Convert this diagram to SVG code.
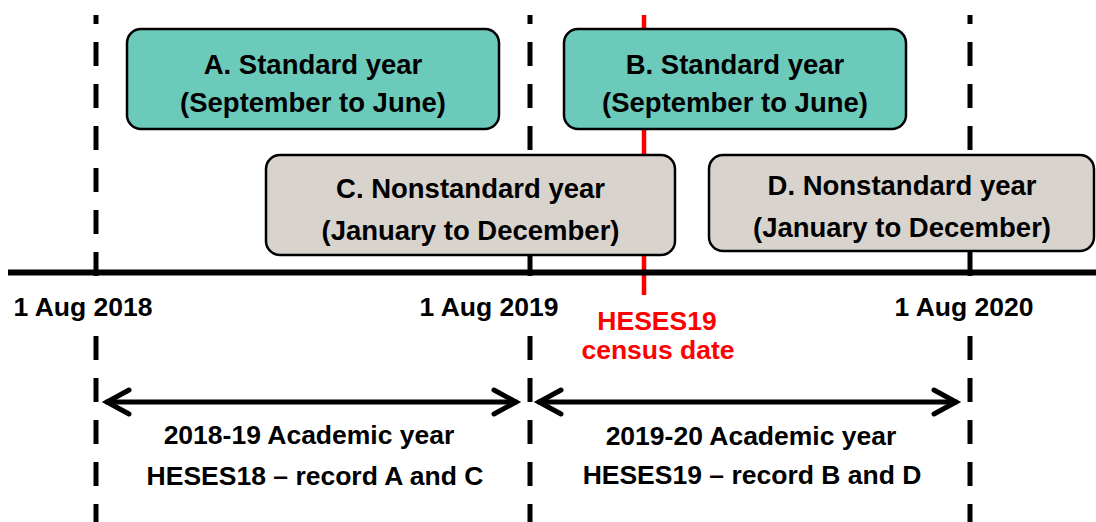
<svg xmlns="http://www.w3.org/2000/svg" width="1096" height="522" viewBox="0 0 1096 522">
<style>
.dash{stroke:#000;stroke-width:5;stroke-dasharray:24 18;fill:none}
.box{stroke:#000;stroke-width:2.5}
.std{fill:#6CCABB}
.non{fill:#D8D3CD}
.bt{font-family:"Liberation Sans",Arial,sans-serif;font-weight:bold;font-size:27.5px;fill:#000;text-anchor:middle}
.lb{font-family:"Liberation Sans",Arial,sans-serif;font-weight:bold;font-size:26.5px;fill:#000;text-anchor:middle}
.red{fill:#FF0000}
.arr{stroke:#000;stroke-width:5;fill:none;stroke-linecap:round}
</style>
<rect width="1096" height="522" fill="#fff"/>
<g id="gridlines">
<line class="dash" x1="96" y1="15" x2="96" y2="276" stroke-dashoffset="15"/>
<line class="dash" x1="530" y1="15" x2="530" y2="276" stroke-dashoffset="15"/>
<line class="dash" x1="970" y1="15" x2="970" y2="276" stroke-dashoffset="15"/>
<line class="dash" x1="96" y1="336" x2="96" y2="522"/>
<line class="dash" x1="530" y1="336" x2="530" y2="522"/>
<line class="dash" x1="970" y1="336" x2="970" y2="522"/>
</g>
<g id="census-line">
<line x1="644" y1="15" x2="644" y2="295" stroke="#FF0000" stroke-width="4.5"/>
</g>
<g id="axis">
<line x1="8" y1="272.5" x2="1096" y2="272.5" stroke="#000" stroke-width="6"/>
</g>
<g id="boxA">
<rect class="box std" x="127" y="29" width="372" height="100" rx="14"/>
<text class="bt" x="313" y="74">A. Standard year</text>
<text class="bt" x="313" y="112">(September to June)</text>
</g>
<g id="boxB">
<rect class="box std" x="564" y="29" width="342" height="100" rx="14"/>
<text class="bt" x="735" y="74">B. Standard year</text>
<text class="bt" x="735" y="112">(September to June)</text>
</g>
<g id="boxC">
<rect class="box non" x="266" y="155" width="409" height="100" rx="14"/>
<text class="bt" x="470.5" y="198">C. Nonstandard year</text>
<text class="bt" x="470.5" y="240">(January to December)</text>
</g>
<g id="boxD">
<rect class="box non" x="709" y="155" width="385" height="96" rx="14"/>
<text class="bt" x="902" y="195">D. Nonstandard year</text>
<text class="bt" x="902" y="237">(January to December)</text>
</g>
<g id="dates">
<text class="lb" x="83" y="316">1 Aug 2018</text>
<text class="lb" x="489" y="316">1 Aug 2019</text>
<text class="lb" x="964" y="316">1 Aug 2020</text>
</g>
<g id="census-label">
<text class="lb red" x="657" y="330">HESES19</text>
<text class="lb red" x="658" y="359">census date</text>
</g>
<g id="connectors">
<line class="arr" x1="107" y1="402" x2="516" y2="402"/>
<path class="arr" d="M129,390 L107,402 L129,414"/>
<path class="arr" d="M494,390 L516,402 L494,414"/>
<line class="arr" x1="539" y1="402" x2="956" y2="402"/>
<path class="arr" d="M561,390 L539,402 L561,414"/>
<path class="arr" d="M934,390 L956,402 L934,414"/>
</g>
<g id="periods">
<text class="lb" x="309" y="444">2018-19 Academic year</text>
<text class="lb" x="315" y="485">HESES18 – record A and C</text>
<text class="lb" x="751" y="445">2019-20 Academic year</text>
<text class="lb" x="752" y="484">HESES19 – record B and D</text>
</g>
</svg>
